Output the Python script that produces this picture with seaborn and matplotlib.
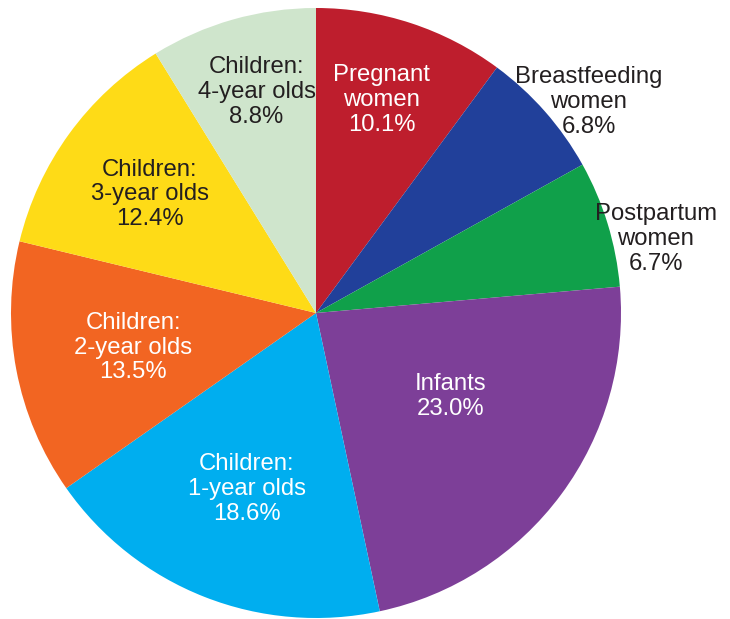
import numpy as np
import matplotlib
matplotlib.use("Agg")
import matplotlib.pyplot as plt
import seaborn as sns

categories = ["Pregnant\nwomen", "Breastfeeding\nwomen", "Postpartum\nwomen", "Infants",
              "Children:\n1-year olds", "Children:\n2-year olds", "Children:\n3-year olds",
              "Children:\n4-year olds"]
values = [10.1, 6.8, 6.7, 23.0, 18.6, 13.5, 12.4, 8.8]
hex_colors = ["#BE1E2D", "#21409A", "#10A04A", "#7D3F98", "#00AEEF", "#F26522", "#FEDB17", "#CFE5CC"]
text_colors = ["white", "#231F20", "#231F20", "white", "white", "white", "#231F20", "#231F20"]
label_r = [0.73, 1.13, 1.14, 0.52, 0.62, 0.61, 0.67, 0.75]
label_dtheta = [1.0, -3.6, -4.7, 4.7, 0.0, 0.0, 0.5, -0.8]

sns.set_theme(style="white")
plt.rcParams["font.family"] = ["Liberation Sans", "DejaVu Sans"]

palette = sns.color_palette(hex_colors)

fig = plt.figure(figsize=(7.30, 6.19), dpi=100)
W, H = 730, 619
cx, cy, R = 316, 313, 305
ax = fig.add_axes([(cx - R) / W, (H - cy - R) / H, 2 * R / W, 2 * R / H])
wedges, _ = ax.pie(values, colors=palette, startangle=90, counterclock=False,
                   radius=1.0, wedgeprops=dict(linewidth=0))
ax.set_xlim(-1, 1)
ax.set_ylim(-1, 1)
ax.set_aspect("equal")
ax.axis("off")

for w, lab, v, tc, r, dt in zip(wedges, categories, values, text_colors, label_r, label_dtheta):
    theta = np.deg2rad((w.theta1 + w.theta2) / 2 + dt)
    x, y = r * np.cos(theta), r * np.sin(theta)
    ax.text(x, y, f"{lab}\n{v:.1f}%", ha="center", va="center", color=tc,
            fontsize=17.2, linespacing=1.17)

fig.savefig("out.png", dpi=100)
